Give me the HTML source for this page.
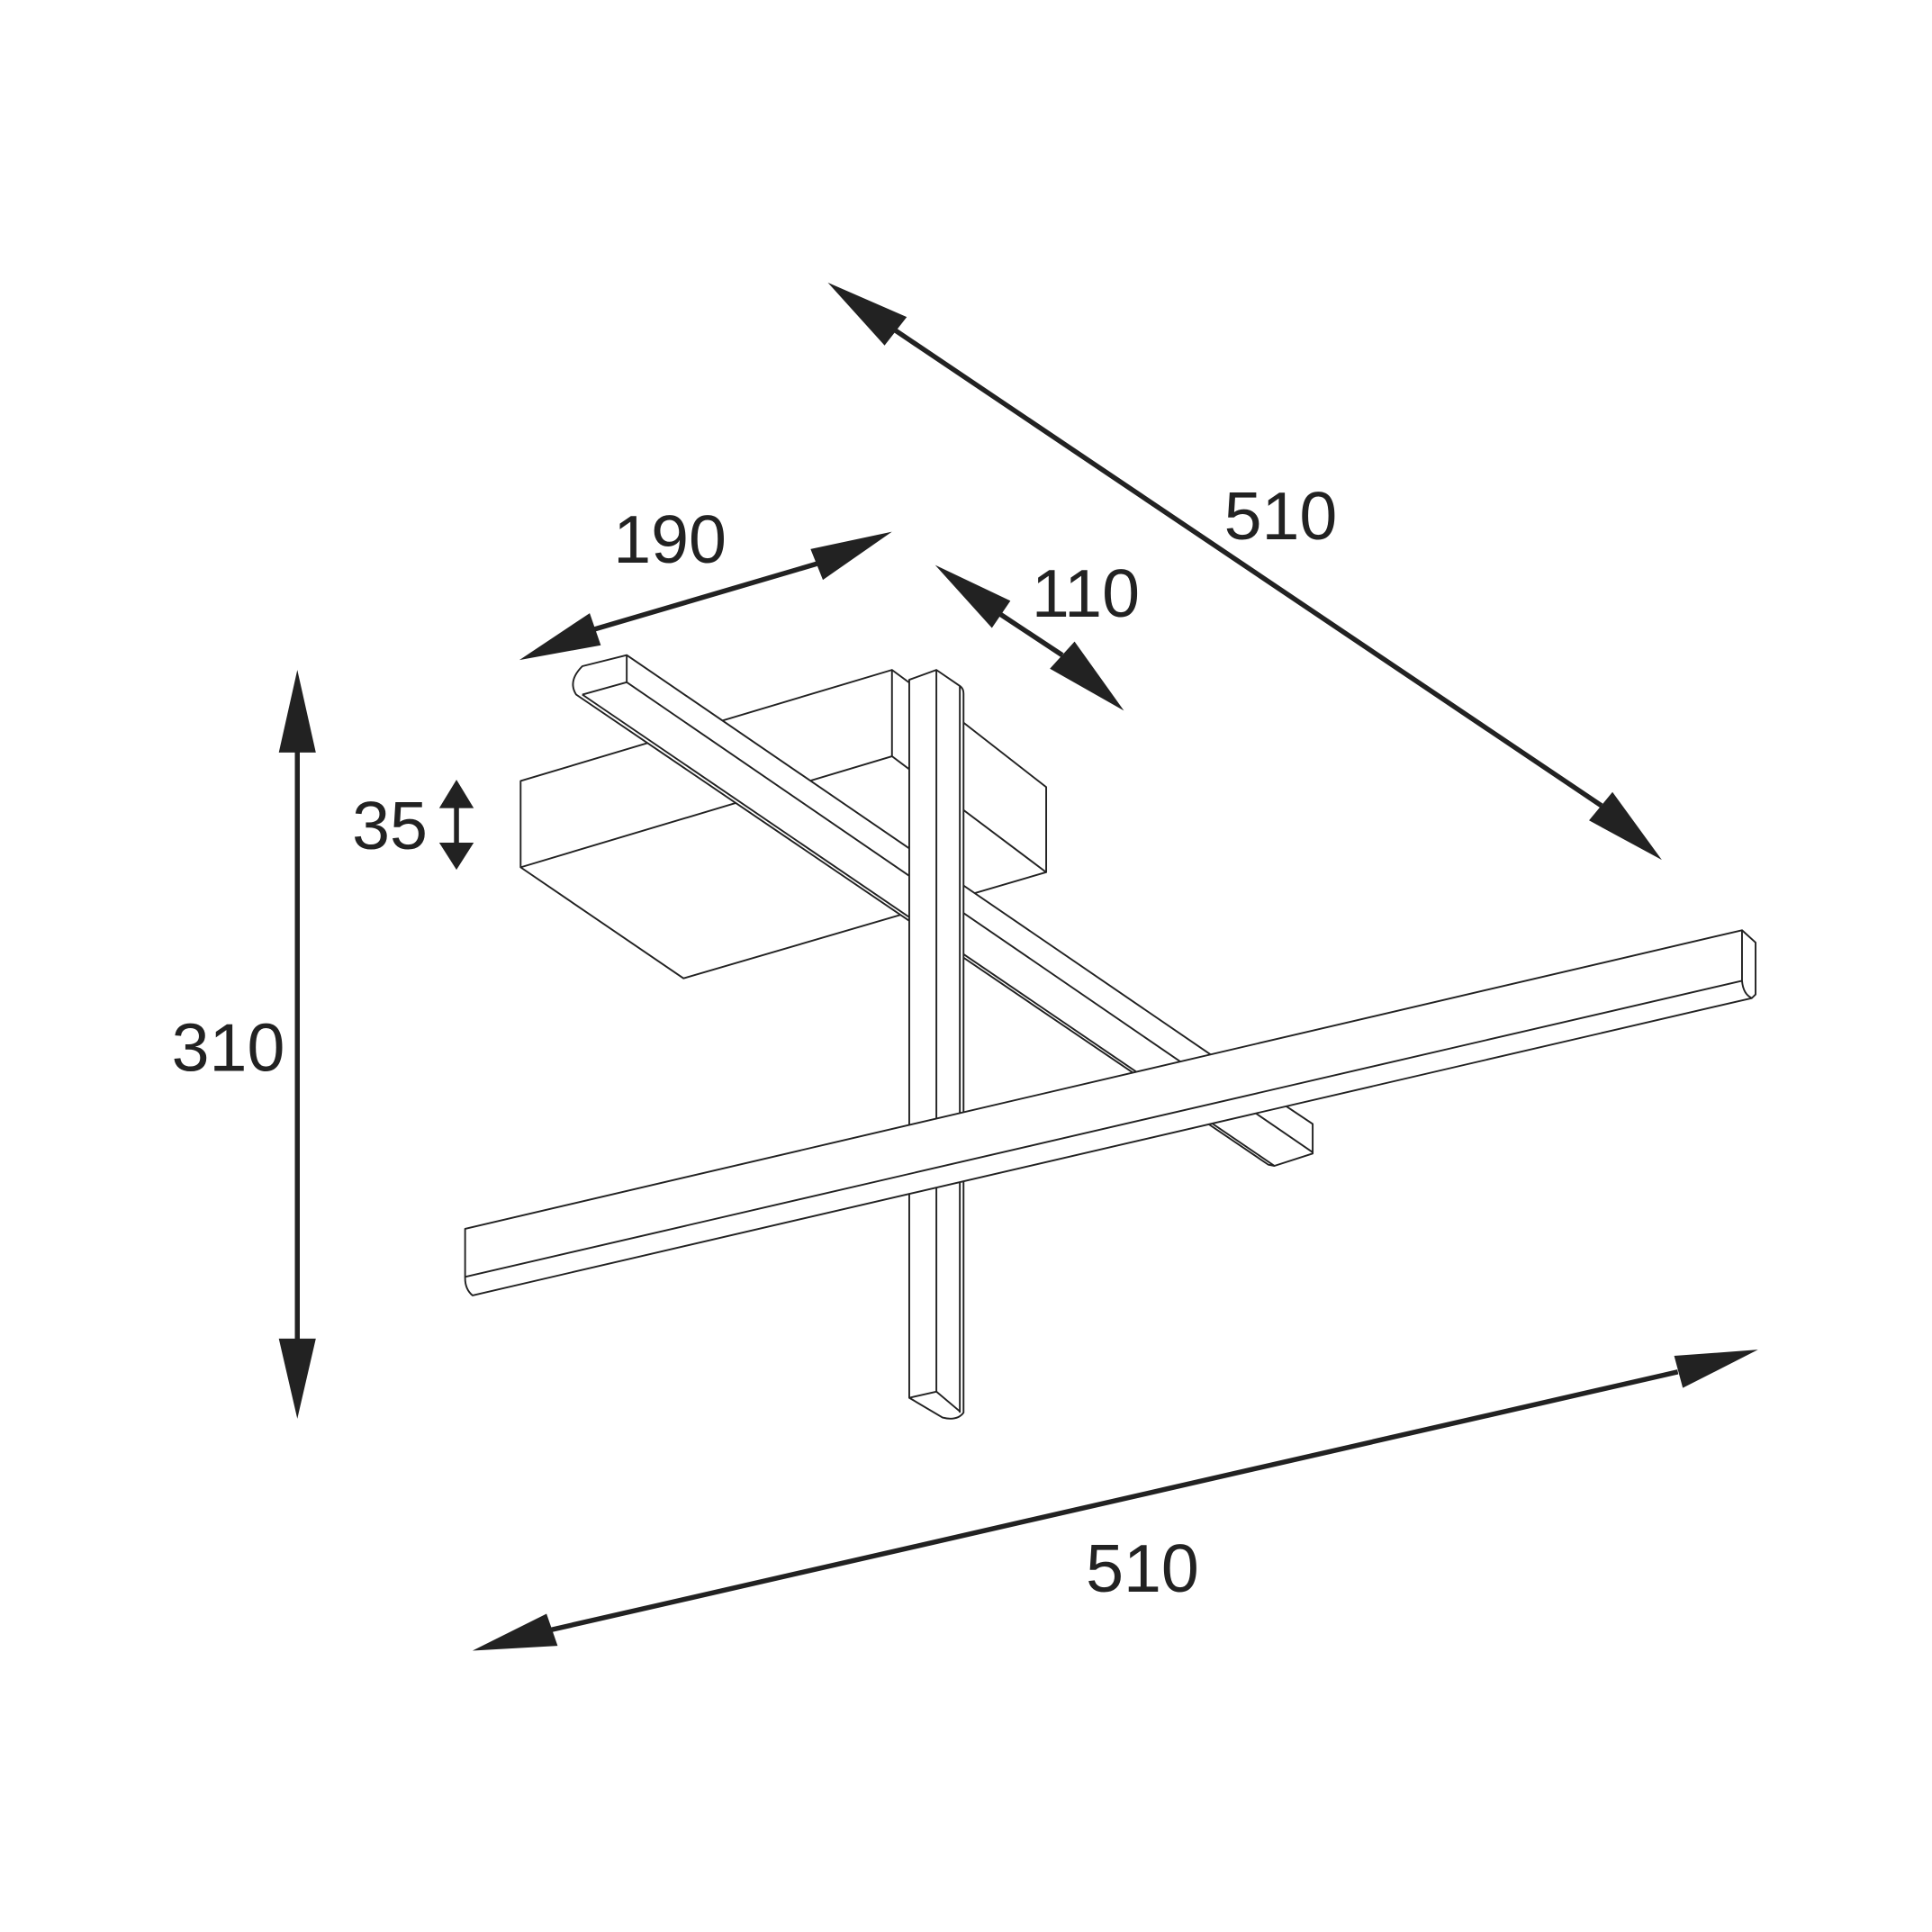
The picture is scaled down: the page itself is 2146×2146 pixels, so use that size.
<!DOCTYPE html>
<html><head><meta charset="utf-8"><style>
html,body{margin:0;padding:0;background:#fff;}
svg{display:block;}
text{font-family:"Liberation Sans",sans-serif;font-size:55px;fill:#222;text-anchor:middle;}
</style></head><body>
<svg width="2146" height="2146" viewBox="0 0 1566 1566" xmlns="http://www.w3.org/2000/svg">
<g fill="#222" stroke="none">
<line x1="241" y1="600" x2="241" y2="1095" stroke="#222" stroke-width="4"/>
<polygon points="241,543 256,610 226,610"/>
<polygon points="241,1150 256,1085 226,1085"/>
<line x1="370" y1="650" x2="370" y2="688" stroke="#222" stroke-width="4"/>
<polygon points="370,632 384,655 356,655"/>
<polygon points="370,705 384,683 356,683"/>
<line x1="482" y1="510" x2="662" y2="457" stroke="#222" stroke-width="4"/>
<polygon points="421,535 478,497 487,523"/>
<polygon points="723,431 657,445 667,470"/>
<line x1="811" y1="498" x2="861" y2="531" stroke="#222" stroke-width="4"/>
<polygon points="758,458 819,487 804,509"/>
<polygon points="911,576 851,542 871,520"/>
<line x1="726" y1="268" x2="1298" y2="653" stroke="#222" stroke-width="4"/>
<polygon points="671,229 735,257 717,280"/>
<polygon points="1347,697 1307,642 1288,665"/>
<line x1="447" y1="1321" x2="1360" y2="1112" stroke="#222" stroke-width="4"/>
<polygon points="383,1338 443,1308 452,1334"/>
<polygon points="1425,1094 1357,1099 1364,1125"/>
</g>
<g fill="#fff" stroke="#222" stroke-width="1.4" stroke-linejoin="round">
<polygon points="422,633 723,543 780,585 848,638 848,707 554,793 422,703"/>
<polyline fill="none" points="422,703 723,613 848,707"/>
<line x1="723" y1="543" x2="723" y2="613"/>
<path d="M467,563 Q460,552 472,540 L508,531 L1043,897 L1064,911 L1064,935 L1033,945 L1028,944 Z"/>
<line x1="472" y1="563" x2="508" y2="553"/>
<line x1="508" y1="531" x2="508" y2="553"/>
<line x1="508" y1="553" x2="1064" y2="934"/>
<line x1="472" y1="563" x2="1033" y2="945"/>
<path d="M737,551 L759,543 L778,556 Q781,558 781,562 L781,1145 Q776,1152 764,1149 L737,1133 Z"/>
<line x1="759" y1="543" x2="759" y2="1128"/>
<polyline fill="none" points="737,1133 759,1128 778,1144"/>
<line x1="778" y1="556" x2="778" y2="1145"/>
<path d="M377,996 L1412,754 L1423,764 L1423,806 L1420,809 L383,1050 Q377,1045 377,1036 Z"/>
<line x1="377" y1="1035" x2="1412" y2="795"/>
<path fill="none" d="M1412,754 L1412,795 Q1413,806 1420,809"/>
</g>
<text x="1038" y="437">510</text>
<text x="543" y="456">190</text>
<text x="880" y="500">110</text>
<text x="316" y="688">35</text>
<text x="185" y="868">310</text>
<text x="926" y="1290">510</text>
</svg>
</body></html>
